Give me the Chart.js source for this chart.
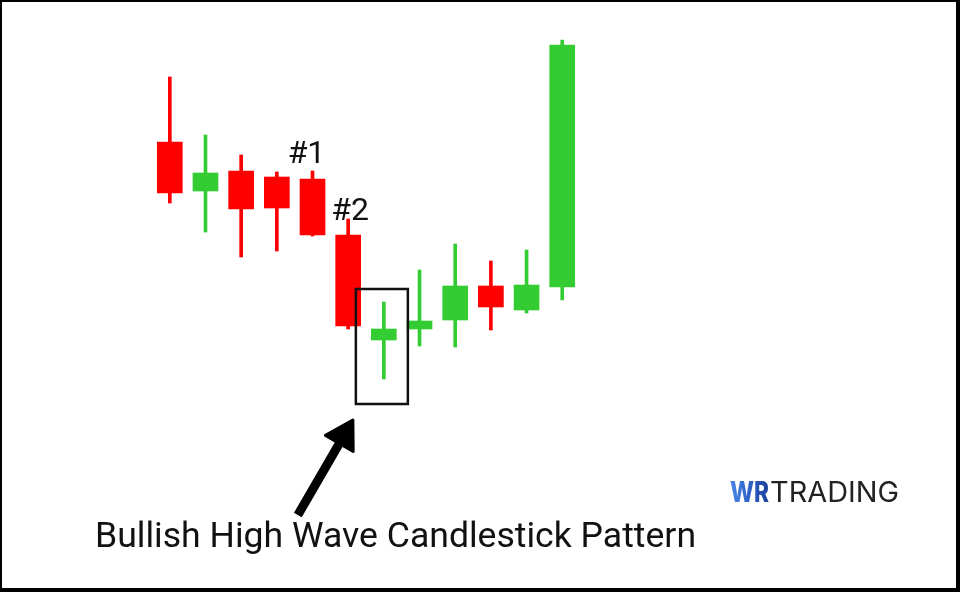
<!DOCTYPE html>
<html>
<head>
<meta charset="utf-8">
<script src="https://cdn.jsdelivr.net/npm/chart.js@4.4.1/dist/chart.umd.min.js"></script>
<style>
  html, body { margin: 0; padding: 0; background: #fff; }
  #wrap { width: 960px; height: 592px; }
</style>
</head>
<body>
<div id="wrap"><canvas id="chart" width="960" height="592"></canvas></div>
<script>
// Candles (price units)
const candles = [1, 2, 3, 4, 5, 6, 7, 8, 9, 10, 11, 12];
const opens  = [45.0, 40.1, 42.1, 41.5, 41.3, 35.7, 25.2, 26.3, 27.2, 30.6, 28.2, 30.5];
const highs  = [51.5, 45.7, 43.7, 42.0, 42.1, 37.3, 29.0, 32.2, 34.8, 33.1, 34.2, 55.2];
const lows   = [38.9, 36.0, 33.5, 34.1, 35.6, 26.3, 21.3, 24.6, 24.5, 26.2, 27.9, 29.2];
const closes = [39.9, 41.9, 38.3, 38.4, 35.7, 26.6, 26.3, 27.1, 30.6, 28.5, 30.7, 54.7];

// Annotations
const markLabels = [{ candle: 5, text: '#1' }, { candle: 6, text: '#2' }];
const highlighted = 7;
const caption = 'Bullish High Wave Candlestick Pattern';

const RED = '#ff0000';
const GREEN = '#33cc33';
const FONT = 'Roboto, sans-serif';

const colors = candles.map((c, i) => closes[i] >= opens[i] ? GREEN : RED);

// Overlay: labels, box, arrow, caption, logo, frame
const overlay = {
  id: 'overlay',
  afterDatasetsDraw(chart) {
    const ctx = chart.ctx;
    const xs = chart.scales.x, ys = chart.scales.y;
    ctx.save();

    // #1 / #2 labels
    ctx.fillStyle = '#111';
    ctx.font = '32px ' + FONT;
    ctx.textAlign = 'center';
    ctx.textBaseline = 'alphabetic';
    markLabels.forEach(m => {
      const i = m.candle - 1;
      const px = xs.getPixelForValue(m.candle);
      const py = ys.getPixelForValue(highs[i]);
      const dx = m.candle === 6 ? 2 : -6;
      const dy = m.candle === 6 ? 1 : -8;
      ctx.fillText(m.text, px + dx, py + dy);
    });

    // box around the high wave candle
    const bx = xs.getPixelForValue(highlighted);
    const top = ys.getPixelForValue(highs[highlighted - 1]) - 13;
    const bottom = ys.getPixelForValue(lows[highlighted - 1]) + 25;
    const left = bx - 28, right = bx + 24;
    ctx.strokeStyle = '#111';
    ctx.lineWidth = 2.5;
    ctx.strokeRect(left, top, right - left, bottom - top);

    // arrow
    const tip = { x: left - 3, y: bottom + 16 };
    const tail = { x: tip.x - 55, y: tip.y + 95 };
    const len = Math.hypot(tip.x - tail.x, tip.y - tail.y);
    const ux = (tip.x - tail.x) / len, uy = (tip.y - tail.y) / len;
    const nx = -uy, ny = ux;
    const base = { x: tip.x - ux * 27, y: tip.y - uy * 27 };
    ctx.strokeStyle = '#000';
    ctx.lineWidth = 9;
    ctx.lineCap = 'butt';
    ctx.beginPath();
    ctx.moveTo(tail.x, tail.y);
    ctx.lineTo(base.x + ux * 4, base.y + uy * 4);
    ctx.stroke();
    ctx.fillStyle = '#000';
    ctx.lineJoin = 'round';
    ctx.lineWidth = 3;
    ctx.beginPath();
    ctx.moveTo(tip.x, tip.y);
    ctx.lineTo(base.x + nx * 16, base.y + ny * 16);
    ctx.lineTo(base.x - nx * 16, base.y - ny * 16);
    ctx.closePath();
    ctx.fill();
    ctx.stroke();

    // caption
    ctx.fillStyle = '#111';
    ctx.textAlign = 'left';
    let size = 31;
    ctx.font = size + 'px ' + FONT;
    size = size * 602 / ctx.measureText(caption).width;
    ctx.font = size.toFixed(1) + 'px ' + FONT;
    ctx.fillText(caption, 95, 547);

    // logo
    ctx.font = '800 28px Inter, sans-serif';
    const ww = ctx.measureText('WR').width;
    const grad = ctx.createLinearGradient(0, 0, ww, 0);
    grad.addColorStop(0, '#4a86e8');
    grad.addColorStop(0.55, '#2d5fc4');
    grad.addColorStop(1, '#1c3f99');
    ctx.fillStyle = grad;
    ctx.save();
    ctx.translate(730, 502);
    ctx.scale(39 / ww, 1);
    ctx.fillText('WR', 0, 0);
    ctx.restore();
    ctx.fillStyle = '#222';
    ctx.font = '400 28px Inter, sans-serif';
    const tw = ctx.measureText('TRADING').width;
    ctx.save();
    ctx.translate(770, 502);
    ctx.scale(129 / tw, 1);
    ctx.fillText('TRADING', 0, 0);
    ctx.restore();

    // frame
    ctx.fillStyle = '#000';
    ctx.fillRect(0, 0, 960, 2);
    ctx.fillRect(0, 0, 2, 592);
    ctx.fillRect(956, 0, 4, 592);
    ctx.fillRect(0, 588, 960, 4);

    ctx.restore();
  }
};

new Chart(document.getElementById('chart'), {
  type: 'bar',
  data: {
    datasets: [
      {
        label: 'wick',
        data: candles.map((c, i) => ({ x: c, y: [lows[i], highs[i]] })),
        backgroundColor: colors,
        barThickness: 3,
        grouped: false,
        borderWidth: 0,
      },
      {
        label: 'body',
        data: candles.map((c, i) => ({ x: c, y: [opens[i], closes[i]] })),
        backgroundColor: colors,
        barThickness: 25,
        grouped: false,
        borderWidth: 0,
      },
    ],
  },
  options: {
    responsive: false,
    animation: false,
    layout: { padding: 0 },
    scales: {
      x: { type: 'linear', min: -3.76, max: 23.15, offset: false, display: false },
      y: { min: 0, max: 59.2, display: false },
    },
    plugins: {
      legend: { display: false },
      tooltip: { enabled: false },
    },
  },
  plugins: [overlay],
});
</script>
</body>
</html>
